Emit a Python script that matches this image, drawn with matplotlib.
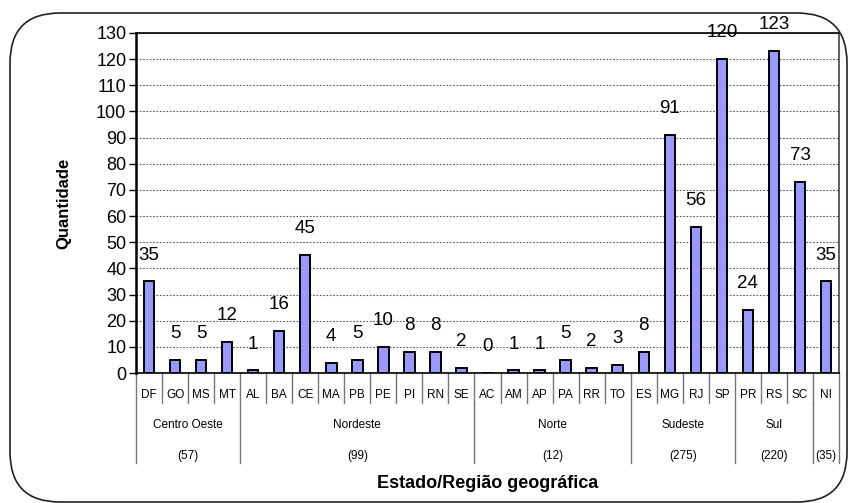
import numpy as np
import matplotlib.pyplot as plt
from matplotlib.patches import FancyBboxPatch
import matplotlib.transforms as mtransforms

plt.rcParams['font.family'] = ['Liberation Sans', 'DejaVu Sans']

# Data
states = ['DF', 'GO', 'MS', 'MT',
          'AL', 'BA', 'CE', 'MA', 'PB', 'PE', 'PI', 'RN', 'SE',
          'AC', 'AM', 'AP', 'PA', 'RR', 'TO',
          'ES', 'MG', 'RJ', 'SP',
          'PR', 'RS', 'SC',
          'NI']
values = [35, 5, 5, 12,
          1, 16, 45, 4, 5, 10, 8, 8, 2,
          0, 1, 1, 5, 2, 3,
          8, 91, 56, 120,
          24, 123, 73,
          35]
regions = ['Centro Oeste', 'Nordeste', 'Norte', 'Sudeste', 'Sul', '']
region_sizes = [4, 9, 6, 4, 3, 1]
region_totals = ['(57)', '(99)', '(12)', '(275)', '(220)', '(35)']

fig = plt.figure(figsize=(8.48, 5.03), dpi=100)
ax = fig.add_axes([0.1604, 0.2584, 0.8290, 0.6760])

x = np.arange(len(states))
ax.bar(x, values, width=0.4, color='#9999FF', edgecolor='black', linewidth=1.4, zorder=3)

for xi, v in zip(x, values):
    ax.annotate(str(v), (xi, v), xytext=(0, 19), textcoords='offset points',
                ha='center', va='center', fontsize=13.5, zorder=4, annotation_clip=False)

ax.set_xlim(-0.5, len(states) - 0.5)
ax.set_ylim(0, 130)
ax.set_yticks(np.arange(0, 131, 10))
ax.tick_params(axis='y', labelsize=13, direction='out', length=5, width=1, pad=2)
ax.set_xticks([])
ax.grid(axis='y', linestyle=(0, (1.5, 1.5)), color='#555555', linewidth=0.8, zorder=0)

ax.spines['left'].set_linewidth(1.8)
ax.spines['bottom'].set_linewidth(1.2)
ax.spines['top'].set_linewidth(1.2)
ax.spines['right'].set_linewidth(1.2)
ax.spines['right'].set_color('#444444')

ax.set_ylabel('Quantidade', fontsize=12, fontweight='bold', labelpad=18)

# category table below the axis
trans = mtransforms.blended_transform_factory(ax.transData, ax.transAxes)
for i in range(len(states) + 1):
    ax.plot([i - 0.5, i - 0.5], [0, -0.088], transform=trans, color='#777777',
            linewidth=1, clip_on=False)
for xi, s in zip(x, states):
    ax.text(xi, -0.065, s, transform=trans, ha='center', va='center', fontsize=8.5)

start = -0.5
bounds = [start]
for n in region_sizes:
    start += n
    bounds.append(start)
for b in bounds:
    ax.plot([b, b], [-0.088, -0.265], transform=trans, color='#777777',
            linewidth=1, clip_on=False)
for i, (r, t) in enumerate(zip(regions, region_totals)):
    mid = (bounds[i] + bounds[i + 1]) / 2
    if r:
        ax.text(mid, -0.154, r, transform=trans, ha='center', va='center', fontsize=8.5)
    ax.text(mid, -0.245, t, transform=trans, ha='center', va='center', fontsize=8.5)

fig.text(0.575, 0.038, 'Estado/Região geográfica', ha='center', va='center',
         fontsize=13, fontweight='bold')

frame = FancyBboxPatch((0.10, 0.01), 8.37, 4.89,
                       boxstyle='round,pad=0,rounding_size=0.5',
                       transform=fig.dpi_scale_trans, facecolor='none',
                       edgecolor='#222222', linewidth=1.2)
fig.add_artist(frame)

plt.savefig('out.png', dpi=100)
